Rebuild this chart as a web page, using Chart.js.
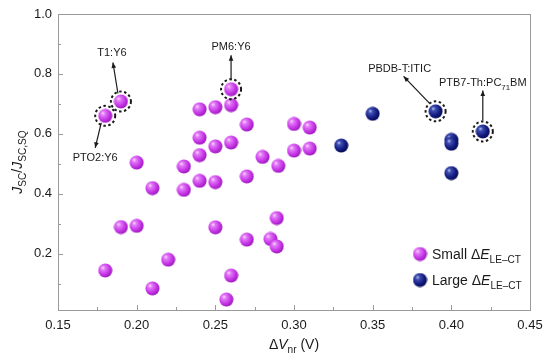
<!DOCTYPE html>
<html>
<head>
<meta charset="utf-8">
<script src="https://cdn.jsdelivr.net/npm/chart.js@4"></script>
<style>
  body { margin: 0; background: #fff; }
  #wrap { width: 554px; height: 359px; }
</style>
</head>
<body>
<div id="wrap"><canvas id="chart" width="554" height="359"></canvas></div>
<script>
// data
const smallX = [0.18, 0.19, 0.26, 0.24, 0.25, 0.26, 0.27, 0.30, 0.31, 0.24, 0.25, 0.26, 0.24, 0.20, 0.28, 0.30, 0.31, 0.23,
  0.29, 0.27, 0.21, 0.23, 0.24, 0.25, 0.19, 0.20, 0.25, 0.289, 0.27, 0.285, 0.289, 0.22, 0.18, 0.26, 0.21, 0.257];
const smallY = [0.660, 0.708, 0.749, 0.682, 0.689, 0.696, 0.631, 0.633, 0.621, 0.587, 0.558, 0.571, 0.529, 0.504, 0.523, 0.544, 0.551, 0.491,
  0.493, 0.458, 0.419, 0.413, 0.443, 0.439, 0.289, 0.293, 0.288, 0.319, 0.247, 0.249, 0.224, 0.180, 0.144, 0.127, 0.084, 0.047];
const largeX = [0.33, 0.35, 0.39, 0.40, 0.40, 0.40, 0.42];
const largeY = [0.561, 0.667, 0.675, 0.580, 0.567, 0.469, 0.608];

const xTicks = [0.15, 0.20, 0.25, 0.30, 0.35, 0.40, 0.45];
const yTicks = [0.2, 0.4, 0.6, 0.8, 1.0];

// labelled blends: dataset, point index, text
const notes = [
  { ds: 0, i: 0, parts: [{ t: "PTO2:Y6" }], from: [-4, 7], to: [-10, 32], lab: [-10, 41] },
  { ds: 0, i: 1, parts: [{ t: "T1:Y6" }], from: [-3, -8], to: [-8, -39], lab: [-9, -49] },
  { ds: 0, i: 2, parts: [{ t: "PM6:Y6" }], from: [0, -9], to: [0, -34], lab: [0, -43] },
  { ds: 1, i: 2, parts: [{ t: "PBDB-T:ITIC" }], from: [-6, -8], to: [-32, -35], lab: [-36, -43] },
  { ds: 1, i: 6, parts: [{ t: "PTB7-Th:PC" }, { t: "71", sub: true }, { t: "BM" }], from: [0, -11], to: [0, -41], lab: [0, -49] }
];

const FONT = "'Liberation Sans', Arial, sans-serif";

function sphere(r, c0, c1, c2, c3) {
  const cv = document.createElement("canvas");
  cv.width = cv.height = r * 2 + 1;
  const g = cv.getContext("2d");
  const c = r + 0.5;
  const grad = g.createRadialGradient(c - r * 0.35, c - r * 0.4, 0, c - r * 0.2, c - r * 0.2, r * 1.3);
  grad.addColorStop(0, c0);
  grad.addColorStop(0.22, c1);
  grad.addColorStop(0.65, c2);
  grad.addColorStop(1, c3);
  g.fillStyle = grad;
  g.beginPath();
  g.arc(c, c, r, 0, Math.PI * 2);
  g.fill();
  return cv;
}
const pinkBall = sphere(7, "#fbe6ff", "#e47cf8", "#c636e6", "#9814b8");
const blueBall = sphere(7, "#c8d0f4", "#4050b4", "#141c80", "#020850");

// text with italic / subscript pieces
function richWidth(ctx, parts, size) {
  let w = 0;
  parts.forEach(p => {
    ctx.font = (p.it ? "italic " : "") + (p.sub ? size * 0.72 : size) + "px " + FONT;
    w += ctx.measureText(p.t).width;
  });
  return w;
}
function drawRich(ctx, parts, x, y, size, align) {
  let w = richWidth(ctx, parts, size);
  let cx = align === "center" ? x - w / 2 : x;
  ctx.textAlign = "left";
  ctx.textBaseline = "alphabetic";
  parts.forEach(p => {
    ctx.font = (p.it ? "italic " : "") + (p.sub ? size * 0.72 : size) + "px " + FONT;
    ctx.fillText(p.t, cx, y + (p.sub ? size * 0.28 : 0));
    cx += ctx.measureText(p.t).width;
  });
}

const decor = {
  id: "decor",
  beforeDatasetsDraw(chart) {
    const ctx = chart.ctx;
    const a = chart.chartArea;
    const xs = chart.scales.x, ys = chart.scales.y;
    ctx.save();
    ctx.strokeStyle = "#9a9a9a";
    ctx.lineWidth = 1;
    ctx.strokeRect(Math.round(a.left) + 0.5, Math.round(a.top) + 0.5, Math.round(a.right - a.left), Math.round(a.bottom - a.top));
    ctx.beginPath();
    // inward ticks, minor halfway between majors
    for (let v = 0.15; v <= 0.4501; v += 0.025) {
      const px = Math.round(xs.getPixelForValue(v)) + 0.5;
      const major = Math.abs(Math.round(v * 20) - v * 20) < 1e-6;
      ctx.moveTo(px, a.bottom);
      ctx.lineTo(px, a.bottom - (major ? 5 : 3));
    }
    for (let v = 0.1; v <= 1.0001; v += 0.1) {
      const py = Math.round(ys.getPixelForValue(v)) + 0.5;
      const major = Math.round(v * 10) % 2 === 0;
      ctx.moveTo(a.left, py);
      ctx.lineTo(a.left + (major ? 5 : 3), py);
    }
    ctx.stroke();
    ctx.restore();
  },
  afterDatasetsDraw(chart) {
    const ctx = chart.ctx;
    const a = chart.chartArea;
    ctx.save();
    ctx.fillStyle = "#1a1a1a";
    ctx.strokeStyle = "#1a1a1a";
    notes.forEach(n => {
      const el = chart.getDatasetMeta(n.ds).data[n.i];
      const px = el.x, py = el.y;
      // dashed ring
      ctx.setLineDash([2.5, 2.5]);
      ctx.lineWidth = 2;
      ctx.beginPath();
      ctx.arc(px, py, 10, 0, Math.PI * 2);
      ctx.stroke();
      ctx.setLineDash([]);
      // arrow
      const x0 = px + n.from[0], y0 = py + n.from[1];
      const x1 = px + n.to[0], y1 = py + n.to[1];
      ctx.lineWidth = 1.2;
      ctx.beginPath();
      ctx.moveTo(x0, y0);
      ctx.lineTo(x1, y1);
      ctx.stroke();
      const ang = Math.atan2(y1 - y0, x1 - x0);
      ctx.beginPath();
      ctx.moveTo(x1, y1);
      ctx.lineTo(x1 - 6 * Math.cos(ang - 0.4), y1 - 6 * Math.sin(ang - 0.4));
      ctx.lineTo(x1 - 6 * Math.cos(ang + 0.4), y1 - 6 * Math.sin(ang + 0.4));
      ctx.closePath();
      ctx.fill();
      drawRich(ctx, n.parts, px + n.lab[0], py + n.lab[1] + 4, 11, "center");
    });

    // legend
    ctx.fillStyle = "#1a1a1a";
    const lx = 420, ly = [254, 280];
    [[pinkBall, "Small "], [blueBall, "Large "]].forEach((it, k) => {
      ctx.drawImage(it[0], lx - 7.5, ly[k] - 7.5);
      drawRich(ctx, [{ t: it[1] }, { t: "\u0394" }, { t: "E", it: true }, { t: "LE\u2013CT", sub: true }], lx + 12, ly[k] + 5, 14, "left");
    });

    // axis titles
    drawRich(ctx, [{ t: "\u0394" }, { t: "V", it: true }, { t: "nr", sub: true }, { t: " (V)" }], (a.left + a.right) / 2, 349, 14, "center");
    ctx.translate(22, (a.top + a.bottom) / 2);
    ctx.rotate(-Math.PI / 2);
    drawRich(ctx, [{ t: "J", it: true }, { t: "SC", sub: true }, { t: "/" }, { t: "J", it: true }, { t: "SC,SQ", sub: true }], 0, 0, 14, "center");
    ctx.restore();
  }
};

new Chart(document.getElementById("chart"), {
  type: "scatter",
  data: {
    datasets: [
      {
        label: "Small",
        data: smallX.map((x, i) => ({ x: x, y: smallY[i] })),
        pointStyle: pinkBall,
        pointRadius: 7
      },
      {
        label: "Large",
        data: largeX.map((x, i) => ({ x: x, y: largeY[i] })),
        pointStyle: blueBall,
        pointRadius: 7
      }
    ]
  },
  options: {
    responsive: false,
    animation: false,
    events: [],
    layout: { padding: { left: 0, right: 24, top: 14, bottom: 0 } },
    plugins: { legend: { display: false }, tooltip: { enabled: false } },
    scales: {
      x: {
        type: "linear",
        min: 0.15,
        max: 0.45,
        afterFit: s => { s.height = 49; },
        afterBuildTicks: s => { s.ticks = xTicks.map(v => ({ value: v })); },
        grid: { display: false, drawTicks: false, tickLength: 0 },
        border: { display: false },
        ticks: {
          padding: 8,
          color: "#1a1a1a",
          font: { family: FONT, size: 13 },
          callback: v => v.toFixed(2)
        }
      },
      y: {
        min: 0.012,
        max: 1.0,
        afterFit: s => { s.width = 58; },
        afterBuildTicks: s => { s.ticks = yTicks.map(v => ({ value: v })); },
        grid: { display: false, drawTicks: false, tickLength: 0 },
        border: { display: false },
        ticks: {
          padding: 6,
          color: "#1a1a1a",
          font: { family: FONT, size: 13 },
          callback: v => v.toFixed(1)
        }
      }
    }
  },
  plugins: [decor]
});
</script>
</body>
</html>
